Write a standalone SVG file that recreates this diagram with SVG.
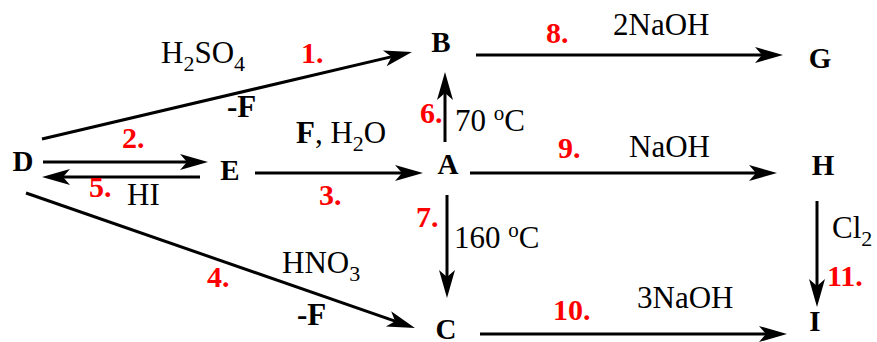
<svg xmlns="http://www.w3.org/2000/svg" width="877" height="342" viewBox="0 0 877 342">
<style>
.n{font-family:"Liberation Serif",serif;font-weight:bold;font-size:29px;fill:#000;text-anchor:middle}
.l{font-family:"Liberation Serif",serif;font-size:31px;fill:#000}
.b{font-family:"Liberation Serif",serif;font-weight:bold;font-size:31px;fill:#000}
.r{font-family:"Liberation Serif",serif;font-weight:bold;font-size:30px;fill:#ff0000}
.s{font-size:22px}
.o{font-size:21px}
line{stroke:#000;stroke-width:3;fill:none;marker-end:url(#ah)}
</style>
<defs>
<marker id="ah" markerUnits="userSpaceOnUse" markerWidth="28" markerHeight="16" refX="13" refY="8" orient="auto" overflow="visible">
<path d="M28,8 L0,0 L7,8 L0,16 Z" fill="#000"/>
</marker>
</defs>
<g id="connectors">
<line x1="42" y1="139" x2="397.4" y2="55.4"/>
<line x1="43" y1="162" x2="193" y2="162"/>
<line x1="200" y1="177" x2="57" y2="177"/>
<line x1="255" y1="173" x2="408" y2="173"/>
<line x1="26" y1="193" x2="400.8" y2="323.1"/>
<line x1="445" y1="142" x2="445" y2="87"/>
<line x1="447" y1="195" x2="447" y2="283"/>
<line x1="476" y1="55" x2="768" y2="55"/>
<line x1="470" y1="173" x2="762" y2="173"/>
<line x1="480" y1="334" x2="772" y2="334"/>
<line x1="817" y1="201" x2="817" y2="292"/>
</g>
<g id="D"><text class="n" x="23" y="171">D</text></g>
<g id="E"><text class="n" x="230" y="180">E</text></g>
<g id="B"><text class="n" x="441" y="52">B</text></g>
<g id="A"><text class="n" x="448" y="174">A</text></g>
<g id="G"><text class="n" x="820" y="68">G</text></g>
<g id="H"><text class="n" x="823" y="175">H</text></g>
<g id="C"><text class="n" x="446" y="339">C</text></g>
<g id="I"><text class="n" x="815" y="331">I</text></g>
<g id="labels">
<text class="l" x="161" y="63">H<tspan class="s" dy="8">2</tspan><tspan dy="-8">SO</tspan><tspan class="s" dy="8">4</tspan></text>
<text class="r" x="301" y="63">1.</text>
<text class="b" x="227" y="117">-F</text>
<text class="r" x="122" y="148">2.</text>
<text class="r" x="89" y="197">5.</text>
<text class="l" x="127" y="205">HI</text>
<text class="l" x="296" y="143"><tspan font-weight="bold">F</tspan>, H<tspan class="s" dy="8">2</tspan><tspan dy="-8">O</tspan></text>
<text class="r" x="319" y="205">3.</text>
<text class="r" x="207" y="287">4.</text>
<text class="l" x="282" y="273">HNO<tspan class="s" dy="8">3</tspan></text>
<text class="b" x="297" y="325">-F</text>
<text class="r" x="420" y="123">6.</text>
<text class="l" x="455" y="131">70 <tspan class="o" dy="-11">o</tspan><tspan dy="11">C</tspan></text>
<text class="r" x="416" y="227">7.</text>
<text class="l" x="454" y="248">160 <tspan class="o" dy="-11">o</tspan><tspan dy="11">C</tspan></text>
<text class="r" x="546" y="43">8.</text>
<text class="l" x="613" y="35">2NaOH</text>
<text class="r" x="558" y="158">9.</text>
<text class="l" x="629" y="157">NaOH</text>
<text class="r" x="553" y="320">10.</text>
<text class="l" x="637" y="308">3NaOH</text>
<text class="l" x="832" y="238">Cl<tspan class="s" dy="8">2</tspan></text>
<text class="r" x="827" y="286">11.</text>
</g>
</svg>
